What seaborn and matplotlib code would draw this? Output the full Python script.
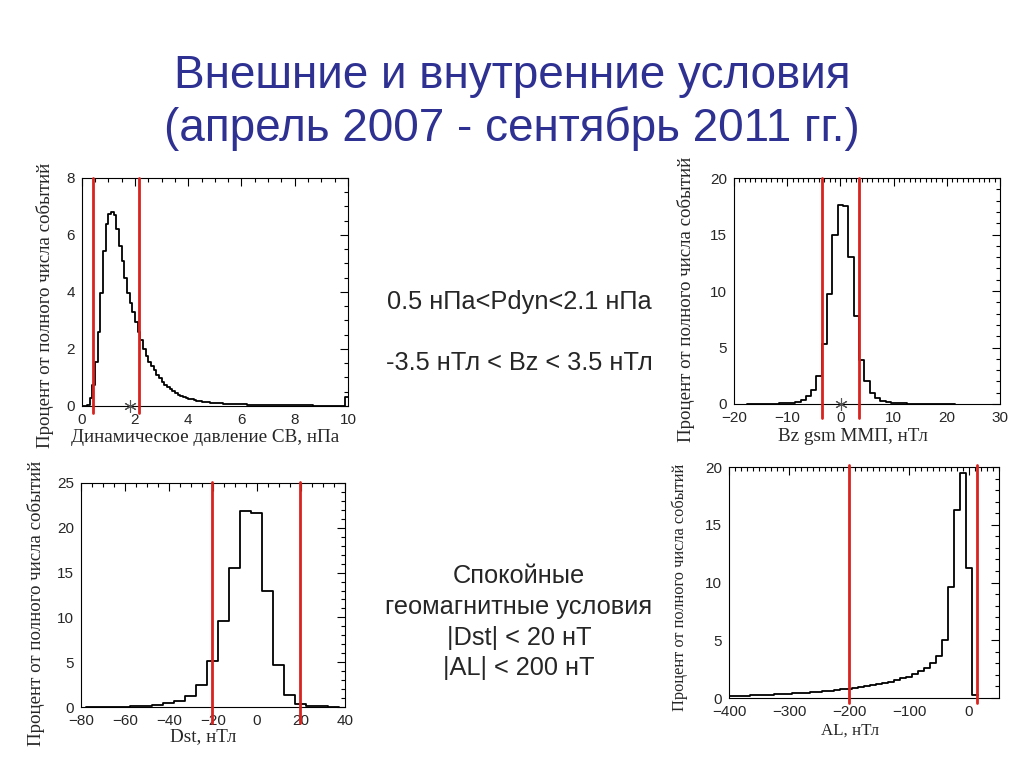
import numpy as np
import pandas as pd
import matplotlib
matplotlib.use('Agg')
from matplotlib import pyplot as plt
from matplotlib.ticker import MultipleLocator
import seaborn as sns

sns.set_style('white')
plt.rcParams['font.family'] = ['Liberation Sans', 'DejaVu Sans']

# ---- data (percent of all events per bin) ----
# Pdyn, 0.1 nPa bins from 0 to 10
pdyn_values = [0.0, 0.01, 0.05, 0.27, 0.74, 1.55, 2.6, 3.95, 5.45, 6.4,
               6.75, 6.8, 6.7, 6.2, 5.6, 5.1, 4.5, 3.95, 3.6, 3.3,
               2.95, 2.6, 2.3, 2.0, 1.75, 1.55, 1.4, 1.25, 1.1, 0.97,
               0.85, 0.75, 0.66, 0.58, 0.51, 0.45, 0.40, 0.36, 0.32, 0.29,
               0.26, 0.23, 0.21, 0.19, 0.17, 0.15, 0.14, 0.13, 0.12, 0.11,
               0.10, 0.095, 0.09, 0.085, 0.08, 0.075, 0.07, 0.065, 0.06, 0.058,
               0.055, 0.052, 0.05, 0.048, 0.045, 0.043, 0.04, 0.038, 0.036, 0.034,
               0.032, 0.03, 0.029, 0.028, 0.027, 0.026, 0.025, 0.024, 0.023, 0.022,
               0.021, 0.02, 0.02, 0.019, 0.018, 0.018, 0.017, 0.016, 0.016, 0.015,
               0.015, 0.014, 0.014, 0.013, 0.013, 0.012, 0.012, 0.011, 0.011, 0.3]
pdyn_centers = np.round(np.arange(len(pdyn_values)) * 0.1 + 0.05, 3)

# Bz gsm IMF, 1 nT bins centred on -17 ... 21
bz_values = [0.02, 0.02, 0.02, 0.03, 0.03, 0.04, 0.05, 0.07, 0.12, 0.2,
             0.38, 0.72, 1.25, 2.5, 5.3, 9.7, 15.0, 17.6, 17.5, 13.0,
             7.8, 3.9, 2.0, 1.0, 0.5, 0.28, 0.16, 0.1, 0.07, 0.05,
             0.04, 0.03, 0.02, 0.02, 0.02, 0.01, 0.01, 0.01, 0.01]
bz_centers = np.arange(-17, -17 + len(bz_values))

# Dst, 5 nT bins centred on -75 ... 35
dst_values = [0.01, 0.02, 0.03, 0.05, 0.07, 0.1, 0.2, 0.41, 0.67, 1.26,
              2.5, 5.1, 9.55, 15.5, 21.9, 21.6, 13.0, 4.7, 1.34, 0.33,
              0.1, 0.07, 0.05]
dst_centers = np.arange(-75, 40, 5)

# AL, 10 nT bins centred on -400 ... 10
al_values = [0.17, 0.18, 0.2, 0.21, 0.23, 0.25, 0.27, 0.29, 0.31, 0.34,
             0.37, 0.4, 0.43, 0.47, 0.51, 0.55, 0.6, 0.65, 0.7, 0.76,
             0.82, 0.88, 0.95, 1.02, 1.1, 1.2, 1.3, 1.42, 1.55, 1.7,
             1.85, 2.05, 2.3, 2.6, 3.0, 3.65, 5.0, 9.6, 16.3, 19.5,
             11.3, 0.3]
al_centers = np.arange(-400, 20, 10)

ylab = 'Процент от полного числа событий'
red = '#d8231e'

fig = plt.figure(figsize=(10.24, 7.68), dpi=100)


def panel(rect, centers, values, width, xlim, ylim, xstep, xminor, ystep, yminor,
          limits, span, xlabel, xlab_xy, ylab_xy, xlab_size=13.8, ylab_size=13.6, star=None):
    ax = fig.add_axes(rect)
    df = pd.DataFrame({'x': centers, 'w': values})
    edges = list(np.append(centers - width / 2, centers[-1] + width / 2))
    sns.histplot(data=df, x='x', weights='w', bins=edges, element='step',
                 fill=False, color='black', linewidth=1.3, ax=ax)
    for v in limits:
        ax.axvline(v, ymin=span[0], ymax=span[1], color=red, lw=2.0,
                   clip_on=False, zorder=5)
    if star is not None:
        ax.plot([star], [0], marker=(6, 2, 0), ms=9, color='#555555',
                mew=0.8, clip_on=False, zorder=6)
    ax.set_xlim(*xlim)
    ax.set_ylim(*ylim)
    ax.xaxis.set_major_locator(MultipleLocator(xstep))
    ax.xaxis.set_minor_locator(MultipleLocator(xminor))
    ax.yaxis.set_major_locator(MultipleLocator(ystep))
    ax.yaxis.set_minor_locator(MultipleLocator(yminor))
    ax.tick_params(which='both', direction='in', top=True, right=True,
                   labelsize=11, width=0.8, color='black', pad=5)
    ax.tick_params(which='major', length=6)
    ax.tick_params(which='minor', length=3)
    for sp in ax.spines.values():
        sp.set_linewidth(0.8)
        sp.set_color('black')
    ax.set_xlabel(xlabel, family='Liberation Serif', fontsize=xlab_size, va='center')
    ax.set_ylabel(ylab, family='Liberation Serif', fontsize=ylab_size, va='center')
    ax.xaxis.set_label_coords(*xlab_xy)
    ax.yaxis.set_label_coords(*ylab_xy)
    return ax


panel([0.0798, 0.4714, 0.26, 0.2969], pdyn_centers, pdyn_values, 0.1,
      (0, 10), (0, 8), 2, 0.5, 2, 0.5, [0.43, 2.15], (-0.03, 1.0),
      'Динамическое давление СВ, нПа', (0.463, -0.14), (-0.138, 0.443), star=1.8)

panel([0.7168, 0.474, 0.2598, 0.294], bz_centers, bz_values, 1,
      (-20, 30), (0, 20), 10, 1, 5, 1, [-3.5, 3.5], (-0.062, 1.0),
      'Bz gsm ММП, нТл', (0.447, -0.146), (-0.18, 0.465), star=0.15)

panel([0.0791, 0.0794, 0.2578, 0.2917], dst_centers, dst_values, 5,
      (-80, 40), (0, 25), 20, 5, 5, 1, [-20.5, 19.5], (-0.071, 1.005),
      'Dst, нТл', (0.462, -0.134), (-0.17, 0.464))

panel([0.712, 0.0911, 0.2637, 0.3008], al_centers, al_values, 10,
      (-400, 50), (0, 20), 100, 10, 5, 1, [-200, 13], (-0.02, 1.01),
      'AL, нТл', (0.448, -0.139), (-0.181, 0.48), xlab_size=12.2, ylab_size=11.8)

# title
title_col = '#2e3192'
fig.text(0.5, 1 - 76 / 768, 'Внешние и внутренние условия', ha='center', va='center',
         fontsize=33, color=title_col)
fig.text(0.5, 1 - 129 / 768, '(апрель 2007 - сентябрь 2011 гг.)', ha='center', va='center',
         fontsize=33, color=title_col)

# conditions in the middle
fig.text(519 / 1024, 1 - 302 / 768, '0.5 нПа<Pdyn<2.1 нПа', ha='center', va='center', fontsize=18.3)
fig.text(519 / 1024, 1 - 363 / 768, '-3.5 нТл < Bz < 3.5 нТл', ha='center', va='center', fontsize=18.3)
quiet_lines = ['Спокойные', 'геомагнитные условия', '|Dst| < 20 нТ', '|AL| < 200 нТ']
for i, line in enumerate(quiet_lines):
    fig.text(519 / 1024, 1 - (576 + 30.8 * i) / 768, line, ha='center', va='center', fontsize=18.3)

fig.savefig('out.png', dpi=100)
